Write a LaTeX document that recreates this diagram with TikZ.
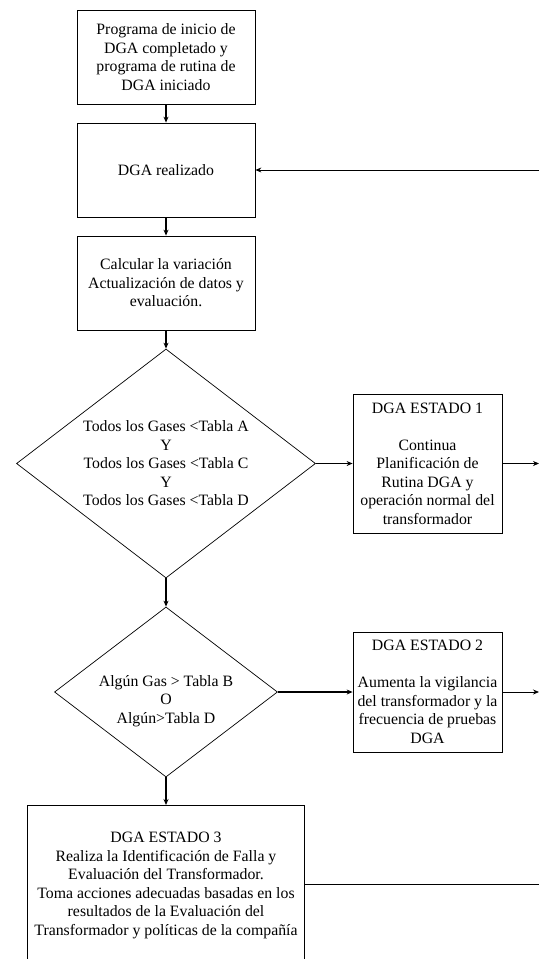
\documentclass[tikz,border=0pt]{standalone}
\usepackage{fontspec}
\setmainfont{Liberation Serif}
\usetikzlibrary{shapes.geometric,arrows.meta}
\begin{document}
\begin{tikzpicture}[x=1pt,y=-1pt,
  font=\fontsize{15.8pt}{18.5pt}\selectfont,
  box/.style={draw, line width=0.8pt, rectangle, inner sep=0pt, align=center},
  dia/.style={draw, line width=0.7pt, diamond, inner sep=0pt},
  lbl/.style={inner sep=0pt, align=center},
  conn/.style={line width=1.1pt, -{Stealth[length=6pt,width=5pt]}},
  thin/.style={line width=0.8pt, -{Stealth[length=6pt,width=5pt]}},
  plain/.style={line width=0.8pt}]
\useasboundingbox (0,0) rectangle (539,959);
\clip (0,0) rectangle (539,959);
\node[box, minimum width=178pt, minimum height=94pt] (b1) at (166,57)
  {Programa de inicio de\\DGA completado y\\programa de rutina de\\DGA iniciado};
\node[box, minimum width=178pt, minimum height=94pt] (b2) at (166,170) {DGA realizado};
\node[box, minimum width=178pt, minimum height=94pt] (b3) at (166,283)
  {Calcular la variación\\Actualización de datos y\\evaluación.};
\node[dia, minimum width=299pt, minimum height=229pt] (d1) at (166,463.5) {};
\node[lbl] (t1) at (166,463.5) {Todos los Gases <Tabla A\\Y\\Todos los Gases <Tabla C\\Y\\Todos los Gases <Tabla D};
\node[box, minimum width=149pt, minimum height=139pt] (s1) at (427.5,463.5)
  {DGA ESTADO 1\\[18.5pt]Continua\\Planificación de\\Rutina DGA y\\operación normal del\\transformador};
\node[dia, minimum width=223pt, minimum height=170pt] (d2) at (166,692) {};
\node[lbl] (t2) at (166,701) {Algún Gas > Tabla B\\O\\Algún>Tabla D};
\node[box, minimum width=149pt, minimum height=120pt] (s2) at (427.5,692)
  {DGA ESTADO 2\\[18.5pt]Aumenta la vigilancia\\del transformador y la\\frecuencia de pruebas\\DGA};
\node[box, minimum width=277pt, minimum height=160pt, anchor=north] (s3) at (166,805)
  {DGA ESTADO 3\\Realiza la Identificación de Falla y\\Evaluación del Transformador.\\Toma acciones adecuadas basadas en los\\resultados de la Evaluación del\\Transformador y políticas de la compañía};
\coordinate (r1) at (539,463.5);
\coordinate (r2) at (539,692);
\coordinate (r3) at (539,884);
\coordinate (rin) at (539,170);
\draw[conn] (b1) -- (b2);
\draw[conn] (b2) -- (b3);
\draw[conn] (b3) -- (d1.north);
\draw[conn] (d1.south) -- (d2.north);
\draw[conn] (d2.south) -- (s3.north);
\draw[conn] (d1.east) -- (s1.west);
\draw[conn] (d2.east) -- (s2.west);
\draw[thin] (s1.east) -- (r1);
\draw[thin] (s2.east) -- (r2);
\draw[plain] (s3.east |- r3) -- (r3);
\draw[thin] (rin) -- (b2.east);
\end{tikzpicture}
\end{document}
